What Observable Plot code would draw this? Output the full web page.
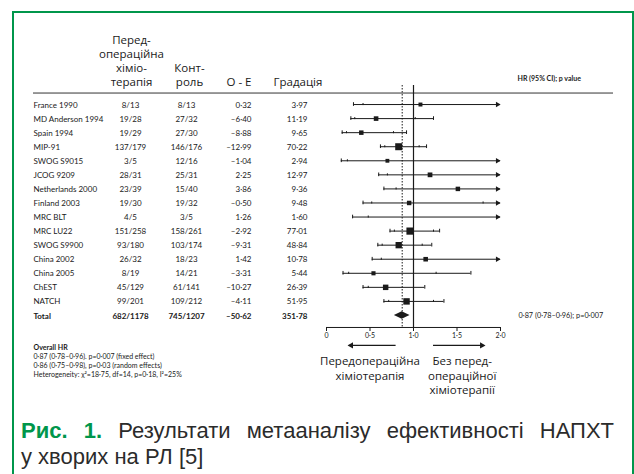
<!DOCTYPE html>
<html><head><meta charset="utf-8">
<script src="https://cdn.jsdelivr.net/npm/d3@7"></script>
<script src="https://cdn.jsdelivr.net/npm/@observablehq/plot@0.6"></script>
<style>
html,body{margin:0;padding:0;background:#fff;width:634px;height:474px;overflow:hidden;}
#chart{position:absolute;left:0;top:0;}
#frame{position:absolute;left:12px;top:11px;width:622px;height:520px;box-sizing:border-box;border:2.5px solid #00964b;border-bottom:none;z-index:2;}
#caption{position:absolute;left:21px;top:418px;width:593px;font-family:"Liberation Sans",Arial,sans-serif;font-size:22px;line-height:26px;color:#2b2b2b;}
#caption .l1{text-align:justify;text-align-last:justify;}
#caption b{color:#00964b;}
</style></head><body>
<div id="chart"></div>
<div id="frame"></div>
<div id="caption"><div class="l1"><b>Рис. 1.</b> Результати метааналізу ефективності НАПХТ</div><div>у хворих на РЛ [5]</div></div>
<script>
// ---- data ----
const studies = ["France 1990", "MD Anderson 1994", "Spain 1994", "MIP-91", "SWOG S9015", "JCOG 9209", "Netherlands 2000", "Finland 2003", "MRC BLT", "MRC LU22", "SWOG S9900", "China 2002", "China 2005", "ChEST", "NATCH"];
const chemo   = ["8/13", "19/28", "19/29", "137/179", "3/5", "28/31", "23/39", "19/30", "4/5", "151/258", "93/180", "26/32", "8/19", "45/129", "99/201"];
const control = ["8/13", "27/32", "27/30", "146/176", "12/16", "25/31", "15/40", "19/32", "3/5", "158/261", "103/174", "18/23", "14/21", "61/141", "109/212"];
const oMinusE = [0.32, -6.40, -8.88, -12.99, -1.04, 2.25, 3.86, -0.50, 1.26, -2.92, -9.31, 1.42, -3.31, -10.27, -4.11];
const variance = [3.97, 11.19, 9.65, 70.22, 2.94, 12.97, 9.36, 9.48, 1.60, 77.01, 48.84, 10.78, 5.44, 26.39, 51.95];
const hr    = [1.08, 0.57, 0.40, 0.83, 0.70, 1.19, 1.51, 0.95, 2.20, 0.96, 0.83, 1.14, 0.54, 0.68, 0.92];
const lo99  = [0.31, 0.28, 0.18, 0.62, 0.17, 0.60, 0.66, 0.42, 0.30, 0.73, 0.59, 0.525, 0.19, 0.42, 0.66];
const lo95  = [0.42, 0.325, 0.23, 0.67, 0.24, 0.70, 0.80, 0.52, 0.48, 0.78, 0.64, 0.63, 0.255, 0.48, 0.715];
const hi95  = [2.90, 1.02, 0.77, 1.065, 2.20, 2.05, 2.86, 1.80, 10.4, 1.23, 1.10, 2.07, 1.26, 1.00, 1.23];
const hi99  = [3.90, 1.23, 0.92, 1.15, 3.10, 2.43, 3.50, 2.19, 16.8, 1.30, 1.21, 2.50, 1.66, 1.13, 1.35];

const totalLabel = "Total";
const totalChemo = "682/1178";
const totalControl = "745/1207";
const totalOE = -50.62;
const totalVariance = 351.78;
const totalHR = 0.87;
const totalCI = [0.78, 0.96];
const totalText = "0·87 (0·78–0·96); p=0·007";

const xTicks = [0, 0.5, 1, 1.5, 2];
const xTickLabels = ["0", "0·5", "1·0", "1·5", "2·0"];
const xMax = 2;

const headers = ["Перед-\nопераційна\nхіміо-\nтерапія", "Конт-\nроль", "O - E", "Градація"];
const hrHeader = "HR (95% CI); p value";
const overallTitle = "Overall HR";
const overallLines = ["0·87 (0·78–0·96). p=0·007 (fixed effect)", "0·86 (0·75–0·98), p=0·03 (random effects)", "Heterogeneity: χ²=18·75, df=14, p=0·18, I²=25%"];
const favourLabels = ["Передопераційна\nхіміотерапія", "Без перед-\nопераційної\nхіміотерапії"];

// ---- build tables ----
const rows = studies.map((s, i) => ({study: s, chemo: chemo[i], control: control[i], oe: oMinusE[i], v: variance[i], hr: hr[i], lo99: lo99[i], lo95: lo95[i], hi95: hi95[i], hi99: hi99[i]}));
const totalRow = {study: totalLabel, chemo: totalChemo, control: totalControl, oe: totalOE, v: totalVariance};
const yDomain = [...studies, totalLabel];

const ink = "#1a1a1a";
const tableFont = "Lato";
const headFont = "Open Sans";
const fmt = v => v.toFixed(2).replace(".", "·").replace("-", "–");
const clip = v => Math.min(v, xMax);

function columnMarks(data, weight) {
  const common = {y: "study", frameAnchor: "left", fontSize: 8, fontFamily: tableFont, fill: ink, fontWeight: weight, lineAnchor: "middle", dy: 0.5};
  return [
    Plot.text(data, {...common, text: "study", dx: 0, textAnchor: "start"}),
    Plot.text(data, {...common, text: "chemo", dx: 97, textAnchor: "middle"}),
    Plot.text(data, {...common, text: "control", dx: 153, textAnchor: "middle"}),
    Plot.text(data, {...common, text: d => fmt(d.oe), dx: 218, textAnchor: "end"}),
    Plot.text(data, {...common, text: d => fmt(d.v), dx: 274, textAnchor: "end"})
  ];
}

function diamondMark(index, scales) {
  const x = scales.x, y = scales.y;
  const bw = typeof y.bandwidth === "function" ? y.bandwidth() : (y.bandwidth || 0);
  const cy = y(totalLabel) + bw / 2;
  const pts = [[x(totalCI[0]), cy], [x(totalHR), cy - 3.8], [x(totalCI[1]), cy], [x(totalHR), cy + 3.8]];
  const p = document.createElementNS("http://www.w3.org/2000/svg", "polygon");
  p.setAttribute("points", pts.map(q => q.join(",")).join(" "));
  p.setAttribute("fill", ink);
  return p;
}

const headText = {frameAnchor: "top-left", lineAnchor: "bottom", fontSize: 11.5, lineHeight: 1.2, fontFamily: headFont, fill: ink};
const favourText = {frameAnchor: "bottom", lineAnchor: "top", dy: 27.8, lineHeight: 1.245, fontSize: 11.5, fontFamily: headFont, fill: ink, textAnchor: "middle"};
const outerTick = {insetTop: 5.2, insetBottom: 5.2, stroke: ink, strokeWidth: 1};
const innerTick = {insetTop: 6, insetBottom: 6, stroke: ink, strokeWidth: 1};

const chart = Plot.plot({
  width: 634, height: 400,
  marginLeft: 33, marginRight: 21, marginTop: 85, marginBottom: 73,
  style: {background: "transparent", color: ink, fontFamily: tableFont, fontSize: "7px"},
  x: {domain: [0, xMax], range: [326, 500], ticks: xTicks, tickFormat: d => xTickLabels[xTicks.indexOf(d)], tickSize: 4, tickPadding: 2, label: null},
  y: {type: "band", domain: yDomain, range: [97, 322], padding: 0, round: false, axis: null},
  r: {type: "sqrt", domain: [0, 80], range: [1.7, 4.1]},
  marks: [
    // header rule
    Plot.ruleY([studies[0]], {y: d => d, dy: -11.5, stroke: "#333", strokeWidth: 1}),
    // reference lines
    Plot.ruleX([1], {stroke: ink, strokeWidth: 1.2}),
    Plot.ruleX([totalHR], {stroke: ink, strokeWidth: 1, strokeDasharray: "1.5,1.5"}),
    // axis line
    Plot.ruleY([totalLabel], {y: d => d, x1: 0, x2: xMax, dy: 12, stroke: ink, strokeWidth: 1}),
    // CI lines
    Plot.ruleY(rows, {y: "study", x1: "lo99", x2: d => clip(d.hi99), stroke: ink, strokeWidth: 1}),
    Plot.tickX(rows, {x: "lo99", y: "study", ...outerTick}),
    Plot.tickX(rows.filter(d => d.hi99 < xMax), {x: "hi99", y: "study", ...outerTick}),
    Plot.tickX(rows, {x: "lo95", y: "study", ...innerTick}),
    Plot.tickX(rows.filter(d => d.hi95 < xMax), {x: "hi95", y: "study", ...innerTick}),
    Plot.dot(rows.filter(d => d.hi99 > xMax), {x: xMax, y: "study", symbol: "triangle2", rotate: 90, r: 2.6, dx: -3, fill: ink, stroke: "none"}),
    // boxes
    Plot.dot(rows.filter(d => d.hr < xMax), {x: "hr", y: "study", r: "v", symbol: "square", fill: ink, stroke: "none"}),
    // total diamond
    diamondMark,
    // table
    ...columnMarks(rows, "normal"),
    ...columnMarks([totalRow], "bold"),
    // headers
    Plot.text([headers[0]], {...headText, text: d => d, dx: 98, textAnchor: "middle"}),
    Plot.text([headers[1]], {...headText, text: d => d, dx: 156, textAnchor: "middle"}),
    Plot.text([headers[2]], {...headText, text: d => d, dx: 218, textAnchor: "end"}),
    Plot.text([headers[3]], {...headText, text: d => d, dx: 240, textAnchor: "start"}),
    Plot.text([hrHeader], {frameAnchor: "top-left", lineAnchor: "bottom", dx: 484, dy: -4.5, fontSize: 7, fontWeight: "bold", fontFamily: tableFont, fill: ink, text: d => d, textAnchor: "start"}),
    Plot.text([totalText], {y: () => totalLabel, frameAnchor: "left", dx: 485, dy: 0.5, lineAnchor: "middle", fontSize: 7.3, fontFamily: tableFont, fill: ink, text: d => d, textAnchor: "start"}),
    // overall HR block
    Plot.text([overallTitle], {frameAnchor: "bottom-left", lineAnchor: "bottom", dy: 22.3, fontSize: 7, fontWeight: "bold", fontFamily: tableFont, fill: ink, text: d => d, textAnchor: "start"}),
    Plot.text([overallLines.join("\n")], {frameAnchor: "bottom-left", lineAnchor: "top", dy: 25.7, lineHeight: 1.23, fontSize: 7, fontFamily: tableFont, fill: ink, text: d => d, textAnchor: "start"}),
    // favour arrows & labels
    Plot.ruleY([totalLabel], {y: d => d, x1: 0.80, x2: 0.26, dy: 30, stroke: ink, strokeWidth: 1.3}),
    Plot.dot([totalLabel], {y: d => d, x: 0.23, dy: 30, dx: 4.7, symbol: "triangle2", rotate: -90, r: 3, fill: ink, stroke: "none"}),
    Plot.ruleY([totalLabel], {y: d => d, x1: 1.23, x2: 1.81, dy: 30, stroke: ink, strokeWidth: 1.3}),
    Plot.dot([totalLabel], {y: d => d, x: 1.84, dy: 30, dx: -4.7, symbol: "triangle2", rotate: 90, r: 3, fill: ink, stroke: "none"}),
    Plot.text([favourLabels[0]], {...favourText, x: 0.5, text: d => d}),
    Plot.text([favourLabels[1]], {...favourText, x: 1.56, text: d => d})
  ]
});
document.getElementById("chart").appendChild(chart);
</script>
</body></html>
